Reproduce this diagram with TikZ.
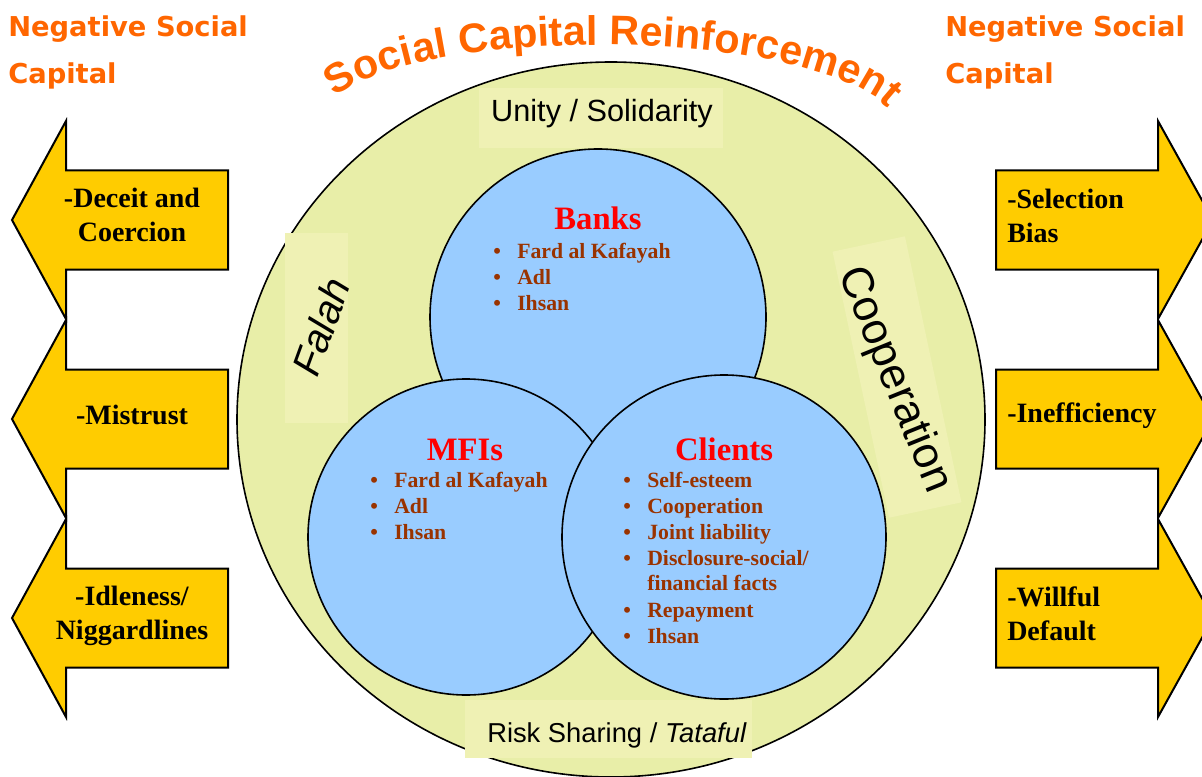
\documentclass[tikz,border=0pt]{standalone}
\usepackage{fontspec}
\setmainfont{Liberation Serif}
\setsansfont{Liberation Sans}
\newfontfamily\headfont{DejaVu Sans}
\usetikzlibrary{decorations.text}

\definecolor{hot}{HTML}{FF6600}
\definecolor{pale}{RGB}{232,238,168}
\definecolor{patch}{RGB}{239,241,180}
\definecolor{sky}{HTML}{99CCFF}
\definecolor{gold}{HTML}{FFCC00}
\definecolor{rust}{HTML}{993300}

\newcommand\itemdot{\makebox[18pt][l]{\textbullet}}

\begin{document}
\begin{tikzpicture}[x=0.75pt, y=-0.75pt,
    ring/.style = {draw, line width=1.2pt},
    arrowbox/.style = {draw, fill=gold, line width=1.5pt, line join=miter},
    headtext/.style = {text=hot, font=\headfont\bfseries\fontsize{20.5}{35.25}\selectfont, align=left, inner sep=0, anchor=north west},
    tagtext/.style = {font=\bfseries\fontsize{21}{25.5}\selectfont, inner sep=0},
    groupname/.style = {text=red, font=\bfseries\fontsize{24.5}{24.5}\selectfont, inner sep=0, anchor=base},
    itemtext/.style = {text=rust, font=\bfseries\fontsize{16.3}{19.5}\selectfont, inner sep=0, anchor=base west},
    valuetext/.style = {font=\sffamily\fontsize{23}{23}\selectfont, inner sep=0}]

\useasboundingbox (0,0) rectangle (1202,777);
\clip (0,0) rectangle (1202,777);

\foreach \c in {220,419,618} {
    \draw[arrowbox] (12,\c) -- (66,\c-99) -- (66,\c-49.5) -- (228,\c-49.5) -- (228,\c+49.5) -- (66,\c+49.5) -- (66,\c+99) -- cycle;
    \draw[arrowbox] (996,\c-49.5) -- (1158,\c-49.5) -- (1158,\c-99) -- (1213,\c) -- (1158,\c+99) -- (1158,\c+49.5) -- (996,\c+49.5) -- cycle;
}

\draw[ring, fill=pale] (611,419.5) ellipse [x radius=374, y radius=357.5];

\fill[patch] (479,88) rectangle (723,148);
\fill[patch] (285,233) rectangle (348,423);
\fill[patch, rotate around={-78:(897,377)}] (761,340) rectangle (1033,414);
\fill[patch] (465,700) rectangle (752,758);

\draw[ring, fill=sky] (598,317) circle [radius=168];
\draw[ring, fill=sky] (466,537) circle [radius=158];
\draw[ring, fill=sky] (724,537) circle [radius=162];

\path[decorate, decoration={text along path, text align=fit to path,
    text={|\sffamily\bfseries\fontsize{31}{31}\selectfont\color{hot}|Social Capital Reinforcement}}]
    (335,97) .. controls (420,26) and (806,26) .. (888,108);

\node[headtext] (n1) at (8,15) {Negative Social\\Capital};
\node[headtext] (n2) at (945,15) {Negative Social\\Capital};

\node[valuetext, anchor=base] (u) at (602,122) {Unity / Solidarity};
\node[valuetext, rotate=70, font=\sffamily\itshape\fontsize{30}{30}\selectfont] (f) at (321,327) {Falah};
\node[valuetext, rotate=-68, font=\sffamily\fontsize{33}{33}\selectfont] (co) at (894,380) {Cooperation};
\node[valuetext, anchor=base west, font=\sffamily\fontsize{20.5}{20.5}\selectfont] (rs) at (487,742) {Risk Sharing / \textit{Tataful}};

\node[tagtext, align=center] (l1) at (132,215) {-Deceit and\\Coercion};
\node[tagtext] (l2) at (132,415) {-Mistrust};
\node[tagtext, align=center] (l3) at (132,616) {-Idleness/\\Niggardlines};
\node[tagtext, align=left, anchor=west] (r1) at (1007,216) {-Selection\\Bias};
\node[tagtext, anchor=west] (r2) at (1007,416) {-Inefficiency};
\node[tagtext, align=left, anchor=west] (r3) at (1007,614) {-Willful\\Default};

\node[groupname] (1) at (598,230) {Banks};
\node[groupname] (2) at (465,460) {MFIs};
\node[groupname] (3) at (724,460) {Clients};

\foreach \y/\t [count=\i] in {258/Fard al Kafayah, 284/Adl, 310/Ihsan}
    \node[itemtext] (b\i) at (493,\y) {\itemdot\t};
\foreach \y/\t [count=\i] in {487/Fard al Kafayah, 513/Adl, 539/Ihsan}
    \node[itemtext] (m\i) at (370,\y) {\itemdot\t};
\foreach \y/\t [count=\i] in {487/Self-esteem, 513/Cooperation, 539/Joint liability, 565/{Disclosure-social/}, 617/Repayment, 643/Ihsan}
    \node[itemtext] (c\i) at (623,\y) {\itemdot\t};
\node[itemtext] (c4b) at (647,590) {financial facts};
\end{tikzpicture}
\end{document}
